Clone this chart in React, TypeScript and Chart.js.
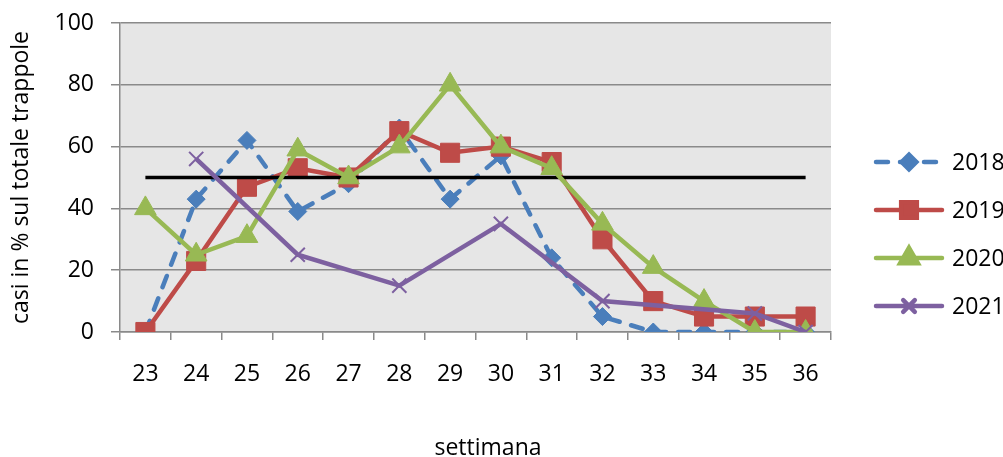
import React, { useEffect, useRef } from 'react';
import { Chart, registerables } from 'chart.js';
import { drawPoint } from 'chart.js/helpers';

Chart.register(...registerables);

const weeks = ['23', '24', '25', '26', '27', '28', '29', '30', '31', '32', '33', '34', '35', '36'];
const s2018 = [0, 43, 62, 39, 48, 66, 43, 57, 24, 5, 0, 0, 0, 0];
const s2019 = [0, 23, 47, 53, 50, 65, 58, 60, 55, 30, 10, 5, 5, 5];
const s2020 = [40, 25, 31, 59, 50, 60, 80, 60, 53, 35, 21, 10, 0, 0];
const s2021 = [null, 56, null, 25, null, 15, null, 35, null, 10, null, null, 6, 0];
const threshold = [50, 50, 50, 50, 50, 50, 50, 50, 50, 50, 50, 50, 50, 50];
const seriesLabels = ['2018', '2019', '2020', '2021'];
const yMin = 0;
const yMax = 100;
const yStep = 20;
const yTitle = 'casi in % sul totale trappole';
const xTitle = 'settimana';

const FONT = "'Open Sans', 'Liberation Sans', sans-serif";

const bgPlugin = {
  id: 'plotBg',
  beforeDraw(chart: any) {
    const { ctx, chartArea } = chart;
    ctx.save();
    ctx.fillStyle = '#e6e6e6';
    ctx.fillRect(chartArea.left, chartArea.top, chartArea.right - chartArea.left, chartArea.bottom - chartArea.top);
    ctx.restore();
  },
};

const extrasPlugin = {
  id: 'extras',
  afterDraw(chart: any) {
    const { ctx, chartArea } = chart;
    ctx.save();
    // x axis title
    ctx.fillStyle = '#000';
    ctx.font = `23px ${FONT}`;
    ctx.textAlign = 'center';
    ctx.textBaseline = 'alphabetic';
    ctx.fillText(xTitle, 488, 455);

    // legend
    const items = chart.data.datasets.filter((d: any) => d.label);
    items.forEach((ds: any, i: number) => {
      const y = 162 + i * 48;
      const x0 = chartArea.right + 43;
      const x1 = x0 + 70;
      ctx.save();
      ctx.strokeStyle = ds.borderColor;
      ctx.lineWidth = ds.borderWidth;
      ctx.lineCap = 'round';
      ctx.setLineDash(ds.borderDash || []);
      ctx.beginPath();
      ctx.moveTo(x0 + 2, y);
      ctx.lineTo(x1 - 2, y);
      ctx.stroke();
      ctx.setLineDash([]);
      ctx.fillStyle = ds.pointBackgroundColor;
      ctx.strokeStyle = ds.pointBorderColor;
      drawPoint(ctx, {
        pointStyle: ds.pointStyle,
        radius: ds.pointRadius * 0.82,
        borderWidth: ds.pointBorderWidth,
        rotation: 0,
      } as any, (x0 + x1) / 2, y);
      ctx.restore();
      ctx.fillStyle = '#000';
      ctx.font = `23px ${FONT}`;
      ctx.textAlign = 'left';
      ctx.textBaseline = 'middle';
      ctx.fillText(ds.label, x1 + 8, y + 1);
    });
    ctx.restore();
  },
};

export default function App() {
  const ref = useRef<HTMLCanvasElement>(null);

  useEffect(() => {
    document.body.style.margin = '0';
    const canvas = ref.current;
    if (!canvas) return;
    const blue = '#4a7ebb';
    const red = '#be4b48';
    const green = '#98b954';
    const purple = '#7d60a0';
    const chart = new Chart(canvas, {
      type: 'line',
      data: {
        labels: weeks,
        datasets: [
          {
            label: seriesLabels[0],
            data: s2018,
            borderColor: blue,
            backgroundColor: blue,
            borderWidth: 4.5,
            borderDash: [12, 12],
            borderCapStyle: 'round',
            pointStyle: 'rectRot',
            pointRadius: 9,
            pointBackgroundColor: blue,
            pointBorderColor: blue,
            pointBorderWidth: 1,
            tension: 0,
            order: 5,
          },
          {
            label: seriesLabels[1],
            data: s2019,
            borderColor: red,
            backgroundColor: red,
            borderWidth: 4.5,
            pointStyle: 'rect',
            pointRadius: 13.5,
            pointBackgroundColor: red,
            pointBorderColor: red,
            pointBorderWidth: 1,
            tension: 0,
            order: 4,
          },
          {
            label: '',
            data: threshold,
            borderColor: '#000',
            backgroundColor: '#000',
            borderWidth: 3.5,
            pointRadius: 0,
            pointHoverRadius: 0,
            tension: 0,
            order: 3,
          },
          {
            label: seriesLabels[2],
            data: s2020,
            borderColor: green,
            backgroundColor: green,
            borderWidth: 4.5,
            pointStyle: 'triangle',
            pointRadius: 12.5,
            pointBackgroundColor: green,
            pointBorderColor: green,
            pointBorderWidth: 1,
            tension: 0,
            order: 2,
          },
          {
            label: seriesLabels[3],
            data: s2021,
            borderColor: purple,
            backgroundColor: purple,
            borderWidth: 4.5,
            pointStyle: 'crossRot',
            pointRadius: 10,
            pointBackgroundColor: purple,
            pointBorderColor: purple,
            pointBorderWidth: 2,
            spanGaps: true,
            tension: 0,
            order: 1,
          },
        ] as any,
      },
      options: {
        animation: false,
        responsive: false,
        devicePixelRatio: 1,
        layout: { padding: { top: 23, right: 172, left: 0, bottom: 0 } },
        plugins: {
          legend: { display: false },
          tooltip: { enabled: false },
          title: { display: false },
        },
        scales: {
          x: {
            type: 'category',
            offset: true,
            grid: {
              offset: true,
              drawOnChartArea: false,
              drawTicks: true,
              tickLength: 8,
              color: '#8a8a8a',
              lineWidth: 1.5,
            },
            border: { display: true, color: '#8a8a8a', width: 1.5 },
            ticks: {
              color: '#000',
              font: { family: FONT, size: 23 },
              padding: 21,
              maxRotation: 0,
              autoSkip: false,
            },
            afterFit: (s: any) => {
              s.height = 125;
              s.paddingLeft = 0;
              s.paddingRight = 0;
            },
          },
          y: {
            min: yMin,
            max: yMax,
            ticks: {
              stepSize: yStep,
              color: '#000',
              font: { family: FONT, size: 23 },
              padding: 17,
            },
            grid: {
              color: '#8a8a8a',
              lineWidth: 1.5,
              drawTicks: true,
              tickLength: 9,
            },
            border: { display: true, color: '#8a8a8a', width: 1.5 },
            title: {
              display: true,
              text: yTitle,
              color: '#000',
              font: { family: FONT, size: 23 },
              padding: { top: 8, bottom: 0 },
            },
            afterFit: (s: any) => {
              s.width = 120;
              s.paddingTop = 0;
              s.paddingBottom = 0;
            },
          },
        },
      } as any,
      plugins: [bgPlugin, extrasPlugin],
    });
    return () => chart.destroy();
  }, []);

  return <canvas ref={ref} width={1003} height={457} style={{ display: 'block' }} />;
}
